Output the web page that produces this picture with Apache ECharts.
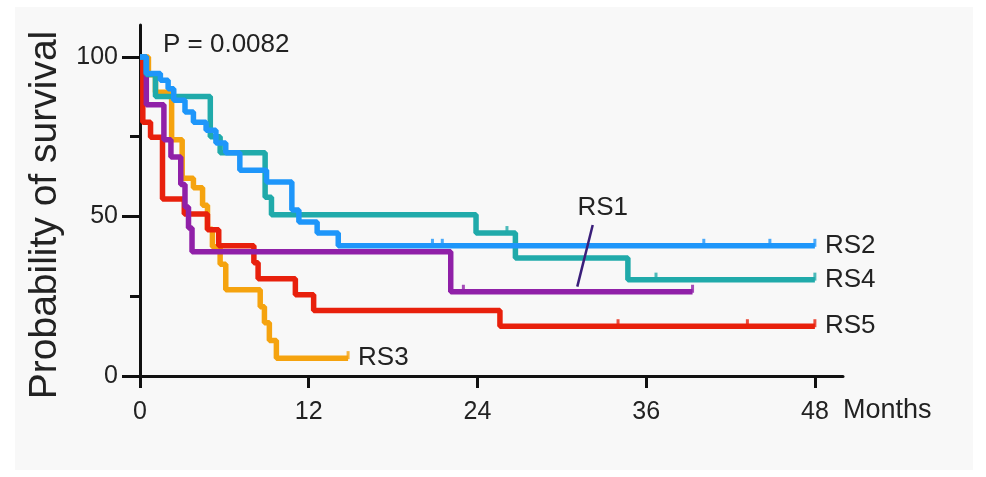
<!DOCTYPE html>
<html><head><meta charset="utf-8">
<script src="https://cdn.jsdelivr.net/npm/echarts@6/dist/echarts.min.js"></script>
<style>html,body{margin:0;padding:0;background:#fff}#c{width:986px;height:477px}</style>
</head><body><div id="c"></div>
<script>
// ---- axis ticks ----
const tickMonths = [0, 12, 24, 36, 48];
const tickSurvival = [0, 50, 100];
const minorSurvival = [25, 75];

// ---- RS2 (blue) ----
const rs2Time = [0, 0.45, 1.45, 2.0, 2.4, 3.2, 3.8, 4.7, 5.4, 6.1, 7.1, 9.0, 10.8, 11.3, 12.6, 14.1, 48];
const rs2Surv = [100, 94.8, 92.7, 90, 86.4, 82.7, 79.5, 77, 73, 70, 64.5, 60.8, 52, 48.3, 44.8, 40.8, 40.8];
const rs2Censor = [20.8, 21.5, 40.1, 44.8, 48];

// ---- RS4 (teal) ----
const rs4Time = [0, 0.45, 1.1, 5.0, 5.7, 8.9, 9.35, 23.9, 26.7, 34.7, 48];
const rs4Surv = [100, 94.5, 87.6, 75, 70, 56, 50.5, 44.8, 37, 30.2, 30.2];
const rs4Censor = [26.1, 36.7, 48];

// ---- RS1 (purple) ----
const rs1Time = [0, 0.45, 1.7, 2.2, 2.9, 3.2, 3.45, 3.7, 22.1, 39.3];
const rs1Surv = [100, 85, 74, 68.6, 60, 53, 46.4, 38.9, 26.4, 26.4];
const rs1Censor = [23.0, 39.3];

// ---- RS5 (red) ----
const rs5Time = [0, 0.2, 0.75, 1.6, 3.15, 4.8, 5.6, 8.1, 8.4, 11.05, 12.35, 25.6, 48];
const rs5Surv = [100, 79.5, 74.8, 55.5, 50.8, 45.8, 40.8, 35.5, 30.5, 25.5, 20.5, 15.6, 15.6];
const rs5Censor = [34.0, 43.2, 48];

// ---- RS3 (orange) ----
const rs3Time = [0, 0.6, 1.1, 2.25, 3.0, 3.8, 4.45, 4.8, 5.15, 5.7, 6.1, 8.55, 8.85, 9.2, 9.7, 14.8];
const rs3Surv = [100, 94.4, 88.9, 74, 62, 59, 53.5, 46, 40.5, 35, 27, 21.7, 16.7, 11.1, 5.6, 5.6];
const rs3Censor = [14.8];

// ---- RS1 leader line annotation ----
const rs1LeaderTime = [32.2, 31.1];
const rs1LeaderSurv = [47.3, 28];

const pValueText = 'P = 0.0082';

const groups = [
  {name: 'RS3', t: rs3Time, s: rs3Surv, c: rs3Censor, color: '#F5A30F', end: true},
  {name: 'RS5', t: rs5Time, s: rs5Surv, c: rs5Censor, color: '#E8200C', end: true},
  {name: 'RS1', t: rs1Time, s: rs1Surv, c: rs1Censor, color: '#9020A8', end: false},
  {name: 'RS4', t: rs4Time, s: rs4Surv, c: rs4Censor, color: '#20AAAA', end: true},
  {name: 'RS2', t: rs2Time, s: rs2Surv, c: rs2Censor, color: '#1E96FA', end: true}
];

function survAt(times, survs, t) {
  let v = survs[0];
  for (let i = 0; i < times.length; i++) if (times[i] <= t) v = survs[i];
  return v;
}

const FONT = '"Liberation Sans", Arial, sans-serif';
const series = [];
groups.forEach(g => {
  series.push({
    type: 'line', name: g.name, step: 'end', showSymbol: false, symbol: 'none',
    data: g.t.map((t, i) => [t, g.s[i]]),
    lineStyle: {color: g.color, width: 5.5},
    itemStyle: {color: g.color},
    endLabel: {show: g.end, formatter: g.name, distance: 10, fontSize: 26,
      fontFamily: FONT, color: '#222'},
    z: 3
  });
  series.push({
    type: 'scatter', name: g.name + ' censored', symbol: 'rect', symbolSize: [3, 8],
    symbolOffset: [0, -3],
    data: g.c.map(t => [t, survAt(g.t, g.s, t)]),
    itemStyle: {color: g.color}, z: 4
  });
});
series.push({
  type: 'line', name: 'RS1 label', showSymbol: true, symbol: 'circle', symbolSize: 1,
  itemStyle: {color: 'rgba(0,0,0,0)'},
  data: rs1LeaderTime.map((t, i) => ({value: [t, rs1LeaderSurv[i]],
    label: i === 0 ? {show: true, formatter: 'RS1', position: 'top', distance: 4,
      offset: [10, 0], fontSize: 26, fontFamily: FONT, color: '#222'} : {show: false}})),
  lineStyle: {color: '#3A1E7A', width: 2.5}, z: 5
});

const chart = echarts.init(document.getElementById('c'), null, {renderer: 'canvas'});
chart.setOption({
  animation: false,
  backgroundColor: '#ffffff',
  grid: {left: 140, right: 143, top: 25, bottom: 101},
  graphic: [
    {type: 'rect', shape: {x: 15, y: 7, width: 958, height: 463}, style: {fill: '#f8f8f8'}, z: -10, silent: true},
    {type: 'text', x: 45, y: 215, rotation: Math.PI / 2,
      style: {text: 'Probability of survival', font: '39px "Liberation Sans", Arial, sans-serif',
        fill: '#222', textAlign: 'center', textVerticalAlign: 'middle'}},
    {type: 'text', x: 163, y: 45,
      style: {text: pValueText, font: '26px "Liberation Sans", Arial, sans-serif',
        fill: '#222', textAlign: 'left', textVerticalAlign: 'middle'}}
  ],
  xAxis: {
    type: 'value', min: 0, max: 50,
    name: 'Months', nameLocation: 'end', nameGap: 0,
    nameTextStyle: {fontSize: 27, fontFamily: FONT, color: '#222', align: 'left',
      verticalAlign: 'top', padding: [21, 0, 0, 0]},
    axisLine: {show: true, lineStyle: {color: '#111', width: 3}},
    axisTick: {show: true, customValues: tickMonths, length: 12, lineStyle: {color: '#111', width: 3}},
    axisLabel: {show: true, customValues: tickMonths, fontSize: 25, fontFamily: FONT, color: '#222', margin: 24},
    splitLine: {show: false}
  },
  yAxis: [{
    type: 'value', min: 0, max: 110,
    axisLine: {show: true, lineStyle: {color: '#111', width: 3}},
    axisTick: {show: true, customValues: tickSurvival, length: 18, lineStyle: {color: '#111', width: 3}},
    axisLabel: {show: true, customValues: tickSurvival, fontSize: 25, fontFamily: FONT, color: '#222', margin: 22},
    splitLine: {show: false}
  }, {
    type: 'value', min: 0, max: 110, position: 'left',
    axisLine: {show: false},
    axisTick: {show: true, customValues: minorSurvival, length: 10, lineStyle: {color: '#111', width: 3}},
    axisLabel: {show: false},
    splitLine: {show: false}
  }],
  series: series
});
</script></body></html>
